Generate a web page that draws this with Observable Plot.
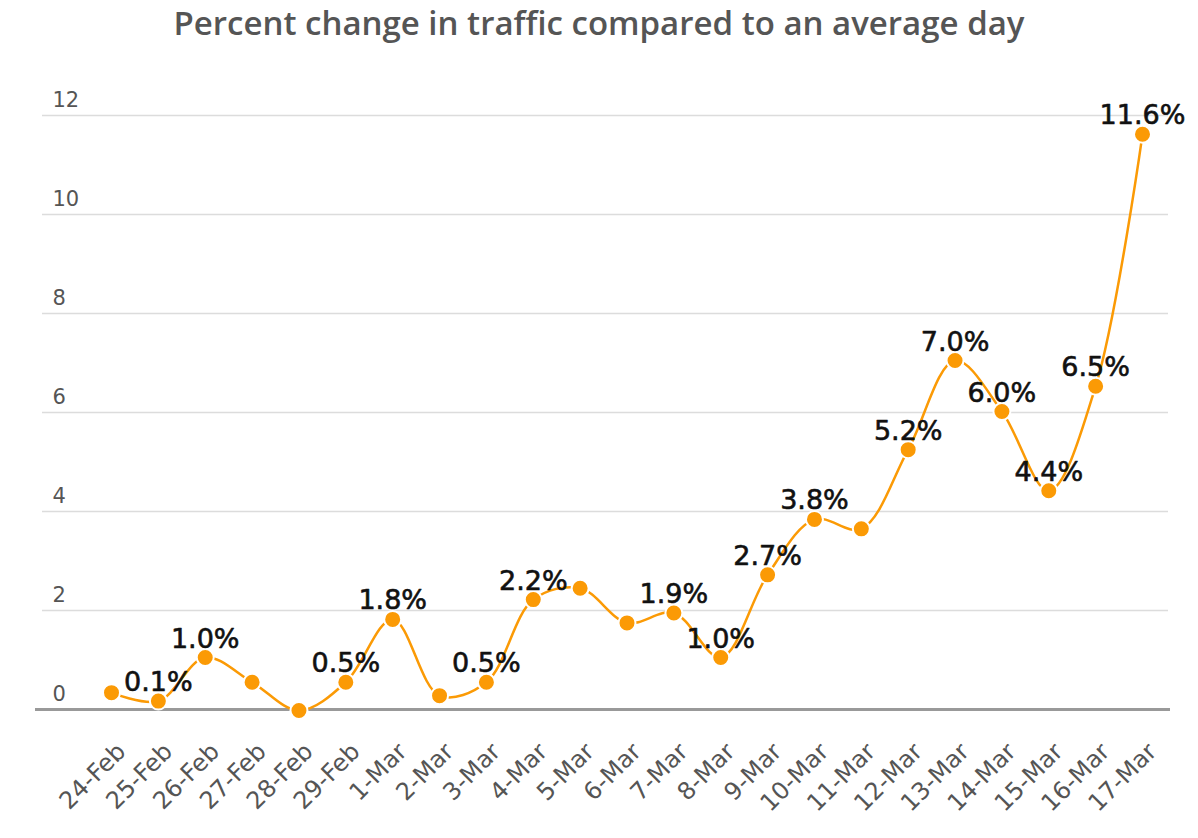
<!DOCTYPE html>
<html>
<head>
<meta charset="utf-8">
<script src="https://cdn.jsdelivr.net/npm/d3@7"></script>
<script src="https://cdn.jsdelivr.net/npm/@observablehq/plot@0.6"></script>
<style>
  body { margin: 0; background: white; }
  #title { width: 1198px; height: 50px; text-align: center; font-family: "Open Sans", sans-serif; font-weight: 600; font-size: 33px; color: #555; line-height: 45px; white-space: nowrap; }
</style>
</head>
<body>
<div id="title">Percent change in traffic compared to an average day</div>
<div id="chart"></div>
<script>
const dates = ["24-Feb","25-Feb","26-Feb","27-Feb","28-Feb","29-Feb","1-Mar","2-Mar","3-Mar","4-Mar","5-Mar","6-Mar","7-Mar","8-Mar","9-Mar","10-Mar","11-Mar","12-Mar","13-Mar","14-Mar","15-Mar","16-Mar","17-Mar"];
const values = [0.34, 0.17, 1.05, 0.55, -0.02, 0.55, 1.82, 0.28, 0.55, 2.22, 2.45, 1.75, 1.95, 1.05, 2.72, 3.84, 3.65, 5.25, 7.05, 6.02, 4.42, 6.53, 11.62];
const labels = ["", "0.1%", "1.0%", "", "", "0.5%", "1.8%", "", "0.5%", "2.2%", "", "", "1.9%", "1.0%", "2.7%", "3.8%", "", "5.2%", "7.0%", "6.0%", "4.4%", "6.5%", "11.6%"];
const yTicks = [0, 2, 4, 6, 8, 10, 12];
const gridTicks = [2, 4, 6, 8, 10, 12];

const data = dates.map((d, i) => ({date: d, value: values[i], label: labels[i]}));
const orange = "#fb9a05";

const chart = Plot.plot({
  width: 1198,
  height: 788,
  marginLeft: 42,
  marginRight: 30,
  marginTop: 65,
  marginBottom: 129,
  x: {type: "point", domain: dates, range: [111, 1142], padding: 0, round: false},
  y: {domain: [0, 12]},
  style: {fontFamily: "DejaVu Sans, sans-serif", background: "white", overflow: "visible"},
  marks: [
    Plot.ruleY(gridTicks, {stroke: "#dcdcdc", strokeWidth: 1.5}),
    Plot.ruleY([0], {stroke: "#999", strokeWidth: 3, insetLeft: -7, insetRight: -2}),
    Plot.axisY({ticks: yTicks, tickSize: 0, tickPadding: 0, textAnchor: "start", dx: 10, dy: -15, fontSize: 21, color: "#555", label: null}),
    Plot.axisX({tickRotate: -45, tickSize: 0, tickPadding: 38, dx: 10, fontSize: 24, color: "#555", label: null}),
    Plot.line(data, {x: "date", y: "value", curve: "catmull-rom", stroke: orange, strokeWidth: 2.5}),
    Plot.dot(data, {x: "date", y: "value", r: 8.5, fill: orange, stroke: "white", strokeWidth: 2}),
    Plot.text(data.filter(d => d.label), {x: "date", y: "value", text: "label", dy: -10, lineAnchor: "bottom", fontSize: 27, fill: "#111", stroke: "#111", strokeWidth: 0.6})
  ]
});
document.getElementById("chart").appendChild(chart);
</script>
</body>
</html>
